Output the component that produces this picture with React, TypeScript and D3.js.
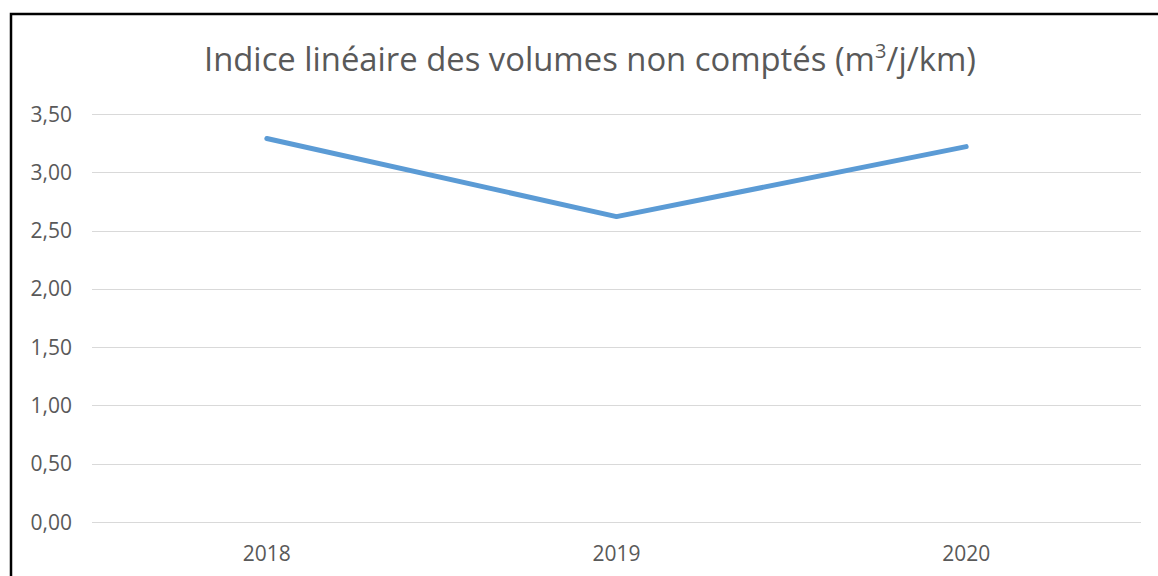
import { useRef, useEffect } from "react";
import * as d3 from "d3";

const years = ["2018", "2019", "2020"];
const values = [3.29, 2.62, 3.22];
const yTicks = [0, 0.5, 1, 1.5, 2, 2.5, 3, 3.5];

export default function App() {
  const svgRef = useRef<SVGSVGElement>(null);

  useEffect(() => {
    if (!svgRef.current) return;
    const width = 1158;
    const height = 576;
    const margin = { top: 114, right: 17, bottom: 54, left: 92 };

    const svg = d3.select(svgRef.current);
    svg.selectAll("*").remove();
    svg.attr("width", width).attr("height", height);

    svg.append("rect").attr("width", width).attr("height", height).attr("fill", "#fff");

    // chart frame (cut off at right and bottom like the screenshot)
    svg
      .append("rect")
      .attr("x", 11)
      .attr("y", 14)
      .attr("width", width + 20)
      .attr("height", height + 20)
      .attr("fill", "none")
      .attr("stroke", "#000")
      .attr("stroke-width", 2.5);

    const x = d3
      .scaleBand()
      .domain(years)
      .range([margin.left, width - margin.right]);

    const y = d3
      .scaleLinear()
      .domain([0, 3.5])
      .range([height - margin.bottom, margin.top]);

    const fmt = (v: number) => v.toFixed(2).replace(".", ",");

    // gridlines
    svg
      .selectAll(".grid")
      .data(yTicks)
      .enter()
      .append("line")
      .attr("x1", margin.left)
      .attr("x2", width - margin.right)
      .attr("y1", (d) => Math.round(y(d)) + 0.5)
      .attr("y2", (d) => Math.round(y(d)) + 0.5)
      .attr("stroke", "#d9d9d9")
      .attr("stroke-width", 1);

    // y labels
    svg
      .selectAll(".ylab")
      .data(yTicks)
      .enter()
      .append("text")
      .attr("x", 72)
      .attr("y", (d) => y(d))
      .attr("dy", "0.36em")
      .attr("text-anchor", "end")
      .attr("fill", "#595959")
      .style("font-family", "'Open Sans', sans-serif")
      .style("font-size", "21px")
      .text((d) => fmt(d));

    // x labels
    svg
      .selectAll(".xlab")
      .data(years)
      .enter()
      .append("text")
      .attr("x", (d) => (x(d) || 0) + x.bandwidth() / 2)
      .attr("y", 561)
      .attr("text-anchor", "middle")
      .attr("fill", "#595959")
      .style("font-family", "'Open Sans', sans-serif")
      .style("font-size", "21px")
      .text((d) => d);

    // line
    const line = d3
      .line<number>()
      .x((_, i) => (x(years[i]) || 0) + x.bandwidth() / 2)
      .y((d) => y(d));

    svg
      .append("path")
      .datum(values)
      .attr("d", line)
      .attr("fill", "none")
      .attr("stroke", "#5b9bd5")
      .attr("stroke-width", 5)
      .attr("stroke-linecap", "round")
      .attr("stroke-linejoin", "round");

    // title
    const title = svg
      .append("text")
      .attr("x", 590)
      .attr("y", 71)
      .attr("text-anchor", "middle")
      .attr("fill", "#595959")
      .style("font-family", "'Open Sans', sans-serif")
      .style("font-size", "32.8px");
    title.append("tspan").text("Indice linéaire des volumes non comptés (m");
    title.append("tspan").attr("dy", -13).style("font-size", "20px").text("3");
    title.append("tspan").attr("dy", 13).text("/j/km)");
  }, []);

  return (
    <div style={{ position: "fixed", left: 0, top: 0 }}>
      <svg ref={svgRef} style={{ display: "block" }} />
    </div>
  );
}
